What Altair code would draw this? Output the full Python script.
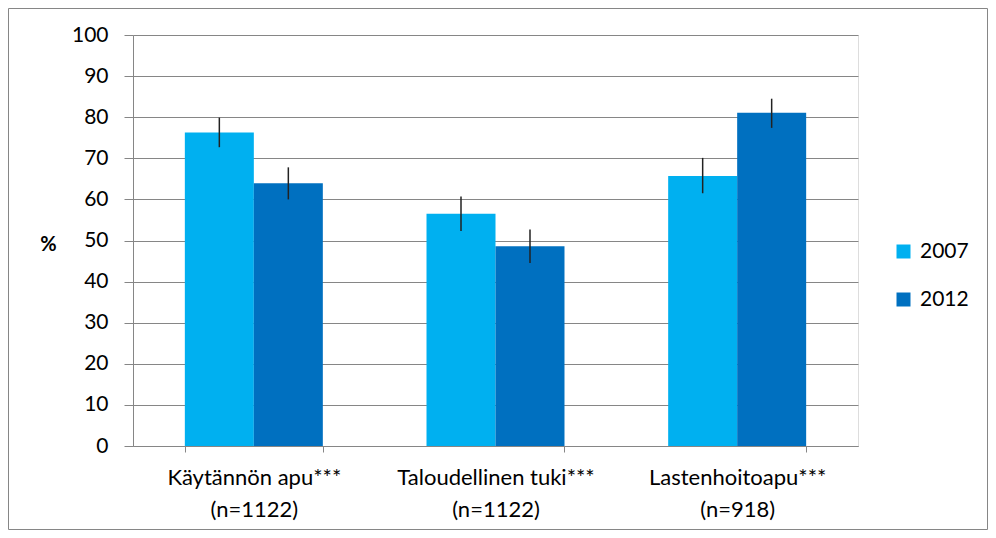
import altair as alt
import pandas as pd

categories = ["Käytännön apu***", "Taloudellinen tuki***", "Lastenhoitoapu***"]
n_labels = ["(n=1122)", "(n=1122)", "(n=918)"]
years = ["2007", "2012"]
values_2007 = [76.3, 56.5, 65.7]
low_2007 = [72.7, 52.3, 61.5]
high_2007 = [79.9, 60.7, 70.1]
values_2012 = [63.9, 48.6, 81.1]
low_2012 = [60.0, 44.5, 77.4]
high_2012 = [67.8, 52.7, 84.5]
colors = ["#00B0F0", "#0070C0"]

rows = []
for i, c in enumerate(categories):
    lab = c + "|" + n_labels[i]
    rows.append({"cat": lab, "year": "2007", "v": values_2007[i], "lo": low_2007[i], "hi": high_2007[i]})
    rows.append({"cat": lab, "year": "2012", "v": values_2012[i], "lo": low_2012[i], "hi": high_2012[i]})
df = pd.DataFrame(rows)
cat_order = [c + "|" + n for c, n in zip(categories, n_labels)]

FONT = "Lato"
W, H = 725, 411
PL, PT, PR, PB = 125, 27, 130, 84

x = alt.X("cat:N", sort=cat_order, title=None,
          scale=alt.Scale(paddingInner=0.429, paddingOuter=0.2145),
          axis=alt.Axis(labelExpr="split(datum.label, '|')", labelAngle=0,
                        labelFont=FONT, labelFontSize=22, labelColor="#000",
                        labelLineHeight=32, labelPadding=15, tickBand="extent",
                        tickSize=6, tickColor="#868686", domainColor="#868686",
                        labelBaseline="top", labelLimit=400))
xo = alt.XOffset("year:N", sort=years, scale=alt.Scale(paddingInner=0, paddingOuter=0))

bars = alt.Chart(df).mark_bar().encode(
    x=x, xOffset=xo,
    y=alt.Y("v:Q", scale=alt.Scale(domain=[0, 100]), title="%",
            axis=alt.Axis(values=list(range(0, 101, 10)), labelFont=FONT, labelFontSize=21,
                          labelColor="#000", tickSize=9, labelPadding=16,
                          tickColor="#868686", domainColor="#868686",
                          gridColor="#868686", gridWidth=1,
                          titleAngle=0, titleX=-85, titleY=209, titleAlign="center",
                          titleBaseline="middle", titleFont=FONT, titleFontSize=20,
                          titleFontWeight="bold", titleColor="#000")),
    color=alt.Color("year:N", sort=years, scale=alt.Scale(domain=years, range=colors),
                    legend=alt.Legend(title=None, orient="none", legendX=760, legendY=206,
                                      symbolType="square", symbolSize=196,
                                      symbolStrokeWidth=0, labelFont=FONT,
                                      labelFontSize=21, labelColor="#000",
                                      rowPadding=26, labelOffset=6)),
)

err = alt.Chart(df).mark_rule(color="#222", strokeWidth=1.5).encode(
    x=alt.X("cat:N", sort=cat_order), xOffset=xo,
    y="lo:Q", y2="hi:Q",
)

border = alt.Chart(pd.DataFrame({"a": [0]})).mark_rect(
    fill=None, stroke="#868686", strokeWidth=1
).encode(
    x=alt.value(-PL + 0.5), x2=alt.value(W + PR - 0.5),
    y=alt.value(-PT + 0.5), y2=alt.value(H + PB - 0.5),
)

chart = alt.layer(bars, err, border).properties(
    width=W, height=H,
    autosize=alt.AutoSizeParams(type="none"),
    padding={"left": PL, "top": PT, "right": PR, "bottom": PB},
).configure_view(stroke=None).configure(background="white")

chart.save("out.html", embed_options={"renderer": "svg", "actions": False})
